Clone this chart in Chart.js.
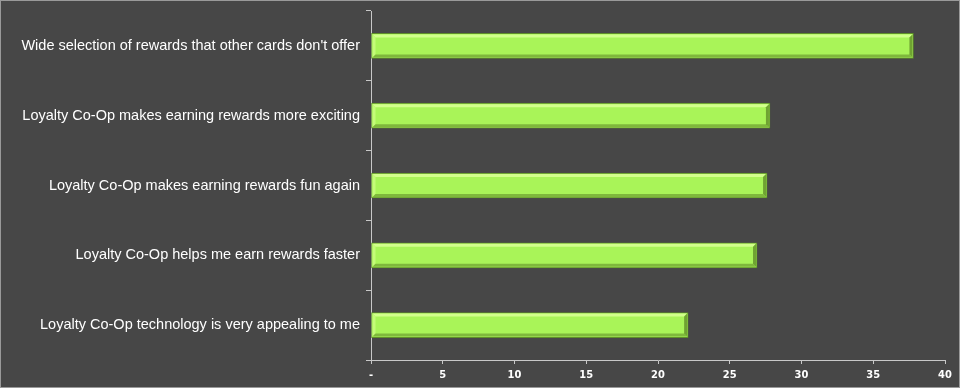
<!DOCTYPE html>
<html>
<head>
<meta charset="utf-8">
<script src="https://cdn.jsdelivr.net/npm/chart.js@4"></script>
<style>
  html, body { margin: 0; padding: 0; background: #474747; }
  #wrap { width: 960px; height: 388px; }
</style>
</head>
<body>
<div id="wrap"><canvas id="myChart" width="960" height="388"></canvas></div>
<script>
const ctx = document.getElementById('myChart').getContext('2d');

const statements = [
    "Wide selection of rewards that other cards don't offer",
    'Loyalty Co-Op makes earning rewards more exciting',
    'Loyalty Co-Op makes earning rewards fun again',
    'Loyalty Co-Op helps me earn rewards faster',
    'Loyalty Co-Op technology is very appealing to me'
];
const scores = [37.8, 27.8, 27.6, 26.9, 22.1];
const xTicks = [0, 5, 10, 15, 20, 25, 30, 35, 40];

// background + thin frame
const frame = {
    id: 'frame',
    beforeDraw(chart) {
        const c = chart.ctx;
        c.save();
        c.fillStyle = '#474747';
        c.fillRect(0, 0, chart.width, chart.height);
        c.strokeStyle = '#9a9a9a';
        c.lineWidth = 1;
        c.strokeRect(0.5, 0.5, chart.width - 1, chart.height - 1);
        c.restore();
    }
};

// bevelled look on each bar
const bevel = {
    id: 'bevel',
    afterDatasetsDraw(chart) {
        const c = chart.ctx;
        chart.getDatasetMeta(0).data.forEach(bar => {
            const left = bar.base, right = bar.x;
            const top = bar.y - bar.height / 2, bottom = bar.y + bar.height / 2;
            const e = 4;
            c.save();
            // top highlight
            c.fillStyle = '#d2ff8c';
            c.beginPath();
            c.moveTo(left + 1, top + 1); c.lineTo(right - 1, top + 1);
            c.lineTo(right - e, top + e); c.lineTo(left + e, top + e);
            c.closePath(); c.fill();
            // left highlight
            c.fillStyle = '#c4fb78';
            c.beginPath();
            c.moveTo(left + 1, top + 1); c.lineTo(left + e, top + e);
            c.lineTo(left + e, bottom - e); c.lineTo(left + 1, bottom - 1);
            c.closePath(); c.fill();
            // bottom shade
            c.fillStyle = '#7fb83c';
            c.beginPath();
            c.moveTo(left + 1, bottom - 1); c.lineTo(right - 1, bottom - 1);
            c.lineTo(right - e, bottom - e); c.lineTo(left + e, bottom - e);
            c.closePath(); c.fill();
            // right shade
            c.fillStyle = '#6fa332';
            c.beginPath();
            c.moveTo(right - 1, top + 1); c.lineTo(right - 1, bottom - 1);
            c.lineTo(right - e, bottom - e); c.lineTo(right - e, top + e);
            c.closePath(); c.fill();
            c.restore();
        });
    }
};

const myChart = new Chart(ctx, {
    type: 'bar',
    data: {
        labels: statements,
        datasets: [{
            data: scores,
            backgroundColor: '#a9f458',
            borderColor: '#5e8f28',
            borderWidth: 1,
            borderSkipped: false,
            barThickness: 25
        }]
    },
    options: {
        indexAxis: 'y',
        responsive: false,
        animation: false,
        layout: { padding: { left: 0, right: 15, top: 11, bottom: 0 } },
        plugins: {
            legend: { display: false },
            tooltip: { enabled: false }
        },
        scales: {
            x: {
                min: 0,
                max: 40,
                afterBuildTicks(scale) {
                    scale.ticks = xTicks.map(v => ({ value: v }));
                },
                afterFit(scale) { scale.height = 28; },
                border: { color: '#c8c8c8', width: 1 },
                grid: {
                    drawOnChartArea: false,
                    color: '#c8c8c8',
                    tickLength: 4
                },
                ticks: {
                    color: '#ffffff',
                    padding: 5,
                    maxRotation: 0,
                    font: { family: "'DejaVu Sans Condensed', 'Liberation Sans Narrow', 'Liberation Sans', sans-serif", size: 11, weight: 'bold' },
                    callback: v => v === 0 ? '-' : v
                }
            },
            y: {
                afterFit(scale) {
                    scale.width = 371;
                    scale.paddingTop = 0;
                    scale.paddingBottom = 0;
                },
                border: { color: '#c8c8c8', width: 1 },
                grid: {
                    drawOnChartArea: false,
                    color: '#c8c8c8',
                    tickLength: 5
                },
                ticks: {
                    color: '#ffffff',
                    padding: 6,
                    font: { family: "'Liberation Sans', Arial, sans-serif", size: 14.5 }
                }
            }
        }
    },
    plugins: [frame, bevel]
});
</script>
</body>
</html>
